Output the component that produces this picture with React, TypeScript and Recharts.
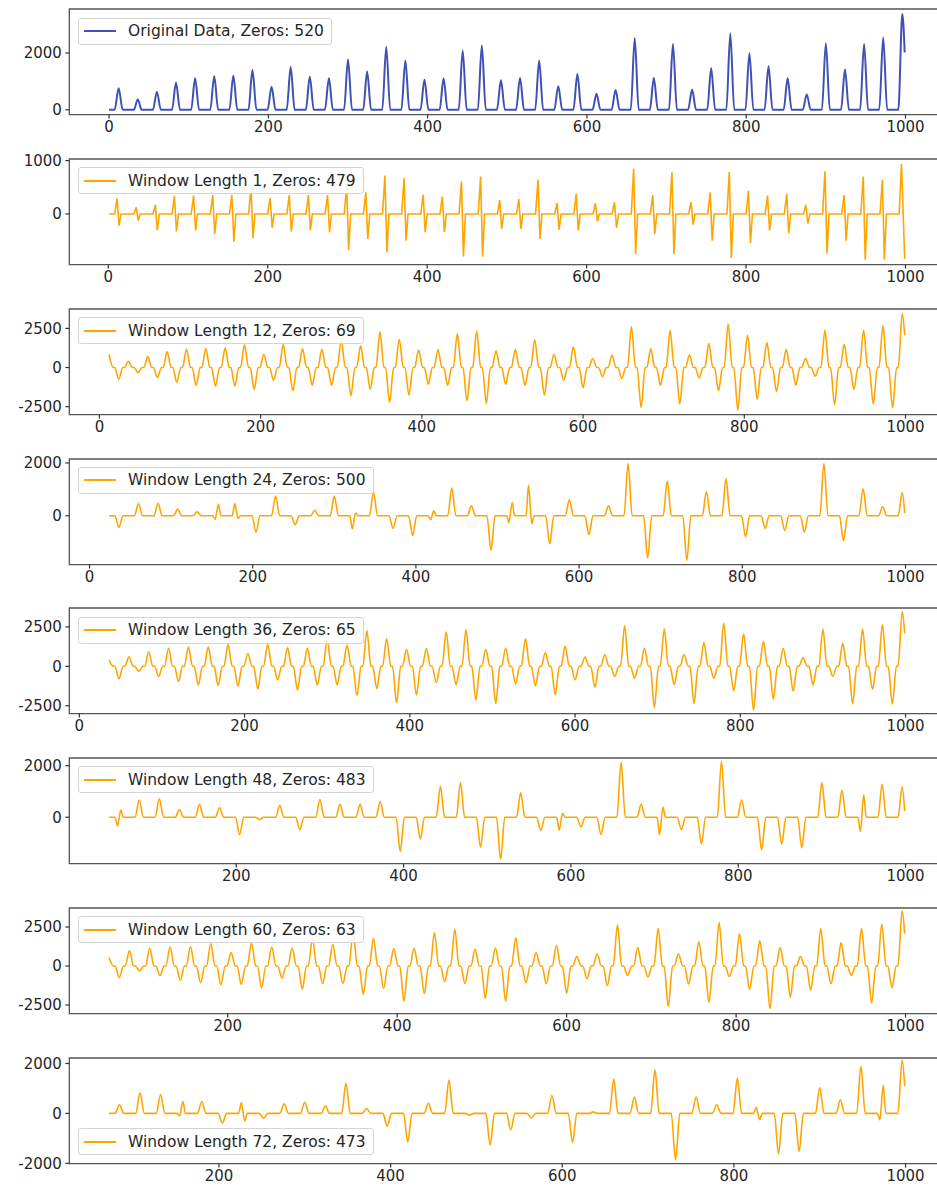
import { LineChart, Line, XAxis, YAxis, ReferenceArea, Legend } from "recharts";

// spike centres shared by every panel (one spike every 24 samples)
const CENTERS = [
  12, 36, 60, 84, 108, 132, 156, 180, 204, 228, 252, 276, 300, 324, 348, 372, 396, 420, 444, 468, 492,
  516, 540, 564, 588, 612, 636, 660, 684, 708, 732, 756, 780, 804, 828, 852, 876, 900, 924, 948, 972, 996,
];

// ==================== values ====================
const originalPeaks = [
  760, 360, 630, 960, 1110, 1180, 1200, 1400, 810, 1510, 1160, 1110, 1780, 1345, 2220, 1740, 1060, 1100, 2090, 2260, 1040,
  1120, 1740, 830, 1260, 560, 700, 2530, 1120, 2320, 710, 1460, 2690, 1990, 1530, 1110, 540, 2340, 1415, 2320, 2550, 3370,
];
const originalEnd = 2020;

const w1Pos = [
  290, 125, 170, 340, 345, 355, 355, 500, 295, 355, 355, 355, 520, 405, 720, 670, 360, 325, 610, 700, 260,
  280, 645, 205, 375, 200, 220, 845, 355, 780, 220, 405, 790, 435, 345, 375, 170, 800, 355, 700, 640, 940,
];
const w1Neg = [
  -220, -125, -310, -330, -310, -375, -520, -450, -260, -330, -310, -345, -670, -470, -720, -500, -345, -340, -800, -800, -280,
  -280, -470, -295, -310, -140, -260, -750, -375, -750, -200, -500, -825, -550, -310, -360, -175, -740, -500, -860, -860,
];
const w1End = -845;

const w12Peaks = [
  830, 400, 680, 1000, 1170, 1210, 1250, 1450, 850, 1470, 1190, 1170, 1790, 1380, 2280, 1810, 1110, 1150, 2150, 2320, 1060,
  1150, 1790, 830, 1320, 575, 790, 2600, 1190, 2380, 790, 1530, 2770, 2060, 1600, 1150, 575, 2380, 1490, 2380, 2660, 3450,
];
const w12Troughs = [
  -745, -320, -640, -940, -1150, -1190, -1190, -1400, -810, -1490, -1130, -1130, -1810, -1400, -2230, -1770, -1060, -1130, -2130, -2300, -1060,
  -1150, -1770, -810, -1280, -575, -700, -2550, -1130, -2340, -660, -1490, -2720, -2020, -1550, -1130, -550, -2360, -1400, -2340, -2570,
];
const w12End = 2060;

// a pair means a small dip/bump right next to the main spike
const w24Spikes: (number | [number, number])[] = [
  -440, 460, 475, 250, 150, [-130, 440], [460, -100], -620, 750, -340, 210, 750, [-500, 100], 900, -480, -750, [-150, 190], 1060, 375, -1310,
  [-250, 500], [1150, -300], -1060, 600, -710, 375, 1980, -1600, 1310, -1690, 910, 1410, -790, -480, -560, -620, 1980, -940, 1025, 340, 875,
];
const w24End = 100;

const w36Peaks = [
  390, 600, 920, 1140, 1220, 1220, 1390, 815, 1390, 1180, 1140, 1720, 1350, 2250, 1760, 1070, 1120, 2190, 2320, 1070,
  1140, 1760, 860, 1290, 580, 750, 2575, 1140, 2360, 750, 1500, 2750, 2040, 1590, 1120, 540, 2360, 1460, 2360, 2640, 3480,
];
const w36Troughs = [
  -790, -320, -640, -970, -1180, -1220, -1250, -1440, -860, -1500, -1180, -1180, -1870, -1400, -2300, -1820, -1030, -1180, -2150, -2360,
  -1120, -1250, -1820, -860, -1330, -640, -750, -2620, -1180, -2360, -750, -1550, -2790, -2080, -1570, -1180, -640, -2400, -1460, -2400,
];
const w36End = 2080;

const w48Spikes: (number | [number, number])[] = [
  [-330, 280], 670, 720, 300, 500, 370, -680, -90, 460, -480, 690, 500, 500, 600, -1330, -850, 1190, 1350, -1160, -1630,
  950, -520, [-500, 150], -380, -680, 2130, 500, [-680, 400], -480, -1030, 2170, 670, -1270, -1050, -1180, 1350, 1060, [-550, 870], 1280, 1180,
];
const w48End = 240;

const w60Peaks = [
  540, 970, 1140, 1220, 1250, 1440, 860, 1460, 1220, 1160, 1760, 1390, 2150, 1780, 1120, 1140, 2150, 2360, 1070, 1160,
  1820, 860, 1330, 600, 790, 2620, 1180, 2400, 790, 1545, 2790, 2060, 1610, 1180, 600, 2400, 1500, 2400, 2680, 3540,
];
const w60Troughs = [
  -750, -320, -620, -920, -1070, -1200, -1180, -1400, -790, -1500, -1140, -1120, -1820, -1440, -2250, -1780, -1010, -1120, -2080, -2250,
  -1070, -1140, -1760, -820, -1250, -600, -710, -2580, -1160, -2320, -690, -1500, -2730, -2000, -1550, -1140, -600, -2360, -1400,
];
const w60End = 2080;

const w72Spikes: (number | [number, number])[] = [
  345, 830, 760, [-100, 480], 480, -390, [440, -300], -200, 390, 450, 300, 1210, 200, -510, -1140, 410, 1340, -70, -1270, -660,
  -180, 720, -1170, 60, 1380, 660, 1750, -1860, 660, 345, 1410, [250, -250], -1630, -1520, 1030, 550, 1900, [-250, 1130], 2140,
];
const w72End = 1100;

const LABELS = [
  "Original Data, Zeros: 520",
  "Window Length 1, Zeros: 479",
  "Window Length 12, Zeros: 69",
  "Window Length 24, Zeros: 500",
  "Window Length 36, Zeros: 65",
  "Window Length 48, Zeros: 483",
  "Window Length 60, Zeros: 63",
  "Window Length 72, Zeros: 473",
];
const STARTS = [0, 1, 12, 24, 36, 48, 60, 72];
const Y_DOMAINS: [number, number][] = [
  [-170, 3550], [-950, 1030], [-3010, 3740], [-1850, 2150], [-3000, 3700], [-1800, 2300], [-3050, 3720], [-2010, 2220],
];
const Y_TICKS = [
  [0, 2000], [0, 1000], [-2500, 0, 2500], [0, 2000], [-2500, 0, 2500], [0, 2000], [-2500, 0, 2500], [-2000, 0, 2000],
];
const X_TICKS_ALL = [0, 200, 400, 600, 800, 1000];
const X_TICKS_200 = [200, 400, 600, 800, 1000];

type Pt = { x: number; y: number };

// spikes: baseline, peak (or dip + bump), baseline
function spikeSeries(start: number, values: (number | [number, number])[], end: number): Pt[] {
  const centers = CENTERS.slice(CENTERS.length - values.length);
  const pts: Pt[] = [{ x: start, y: 0 }];
  centers.forEach((c, i) => {
    const v = values[i];
    if (c - 5 > start) pts.push({ x: c - 5, y: 0 });
    if (Array.isArray(v)) {
      pts.push({ x: c - 2, y: v[0] }, { x: c + 2, y: v[1] });
    } else {
      pts.push({ x: c, y: v });
    }
    if (c + 5 < 999) pts.push({ x: c + 5, y: 0 });
  });
  pts.push({ x: 999, y: end });
  return pts;
}

// up-then-down spikes of the 1-step difference
function pairSeries(start: number, pos: number[], neg: number[], end: number): Pt[] {
  const pts: Pt[] = [{ x: start, y: 0 }];
  CENTERS.forEach((c, i) => {
    pts.push({ x: c - 4, y: 0 }, { x: c - 1, y: pos[i] });
    if (i < neg.length) pts.push({ x: c + 1.5, y: neg[i] }, { x: c + 4, y: 0 });
  });
  pts.push({ x: 999, y: end });
  return pts;
}

// peak on every spike centre, trough half way to the next one
function waveSeries(peaks: number[], troughs: number[], end: number): Pt[] {
  const centers = CENTERS.slice(CENTERS.length - peaks.length);
  const pts: Pt[] = [];
  centers.forEach((c, i) => {
    if (i > 0) pts.push({ x: c - 5, y: 0 });
    pts.push({ x: c, y: peaks[i] });
    if (i < troughs.length) {
      pts.push({ x: c + 5, y: 0 }, { x: c + 7, y: 0 }, { x: c + 12, y: troughs[i] }, { x: c + 17, y: 0 });
    }
  });
  pts.push({ x: 999, y: end });
  return pts;
}

const SERIES: Pt[][] = [
  spikeSeries(0, originalPeaks, originalEnd),
  pairSeries(1, w1Pos, w1Neg, w1End),
  waveSeries(w12Peaks, w12Troughs, w12End),
  spikeSeries(24, w24Spikes, w24End),
  waveSeries(w36Peaks, w36Troughs, w36End),
  spikeSeries(48, w48Spikes, w48End),
  waveSeries(w60Peaks, w60Troughs, w60End),
  spikeSeries(72, w72Spikes, w72End),
];

const FONT = "'DejaVu Sans', Verdana, sans-serif";
const PLOT_LEFT = 69.3;
const PLOT_W = 875.2;
const PLOT_H = 105.6;
const PANEL_STEP = 149.77;
const FIRST_TOP = 9.3;
const CHART_W = 980;
const TOP_PAD = 12;

function LegendBox({ label, color }: { label: string; color: string }) {
  return (
    <div
      style={{
        display: "flex",
        alignItems: "center",
        height: 27,
        boxSizing: "border-box",
        padding: "0 7px 0 5px",
        border: "1px solid #d4d4d4",
        borderRadius: 3,
        background: "rgba(255,255,255,0.85)",
        fontFamily: FONT,
        fontSize: 15.5,
        color: "#262626",
        whiteSpace: "nowrap",
      }}
    >
      <svg width={32} height={4} style={{ display: "block" }}>
        <line x1={0} y1={2} x2={32} y2={2} stroke={color} strokeWidth={2} />
      </svg>
      <span style={{ marginLeft: 12 }}>{label}</span>
    </div>
  );
}

function Panel({ index }: { index: number }) {
  const s = STARTS[index];
  const pad = 0.05 * (999 - s);
  const xDomain: [number, number] = [s - pad, 999 + pad];
  const yDomain = Y_DOMAINS[index];
  const color = index === 0 ? "#4150b4" : "#ffa500";
  const top = FIRST_TOP + index * PANEL_STEP;
  const legendTop = index === 7 ? TOP_PAD + PLOT_H - 35 : TOP_PAD + 8.2;
  const tickStyle = { fill: "#262626", fontSize: 15, fontFamily: FONT };

  return (
    <div style={{ position: "absolute", left: 0, top: top - TOP_PAD }}>
      <LineChart
        width={CHART_W}
        height={PLOT_H + TOP_PAD + 30}
        data={SERIES[index]}
        margin={{ top: TOP_PAD, right: CHART_W - PLOT_LEFT - PLOT_W, left: 0, bottom: 0 }}
      >
        <XAxis
          type="number"
          dataKey="x"
          domain={xDomain}
          allowDataOverflow
          ticks={s >= 48 ? X_TICKS_200 : X_TICKS_ALL}
          interval={0}
          axisLine={false}
          tickLine={{ stroke: "#333", strokeWidth: 1.2 }}
          tickSize={4}
          tickMargin={3}
          tick={tickStyle}
          height={30}
        />
        <YAxis
          type="number"
          domain={yDomain}
          allowDataOverflow
          ticks={Y_TICKS[index]}
          interval={0}
          axisLine={false}
          tickLine={{ stroke: "#333", strokeWidth: 1.2 }}
          tickSize={4}
          tickMargin={3.5}
          tick={tickStyle}
          width={PLOT_LEFT}
        />
        <Line
          type={index === 1 ? "linear" : "monotone"}
          dataKey="y"
          stroke={color}
          strokeWidth={index === 0 ? 2 : 1.6}
          dot={false}
          isAnimationActive={false}
        />
        <ReferenceArea
          x1={xDomain[0]}
          x2={xDomain[1]}
          y1={yDomain[0]}
          y2={yDomain[1]}
          fill="none"
          stroke="#555"
          strokeWidth={1.3}
          ifOverflow="visible"
        />
        <Legend
          layout="vertical"
          align="center"
          verticalAlign="middle"
          wrapperStyle={{ left: 78, top: legendTop, width: "auto", height: "auto" }}
          content={() => <LegendBox label={LABELS[index]} color={color} />}
        />
      </LineChart>
    </div>
  );
}

export default function App() {
  return (
    <div
      style={{
        position: "absolute",
        left: 0,
        top: 0,
        width: 937,
        height: 1187,
        overflow: "hidden",
        background: "#fff",
      }}
    >
      {LABELS.map((_, i) => (
        <Panel key={i} index={i} />
      ))}
    </div>
  );
}
